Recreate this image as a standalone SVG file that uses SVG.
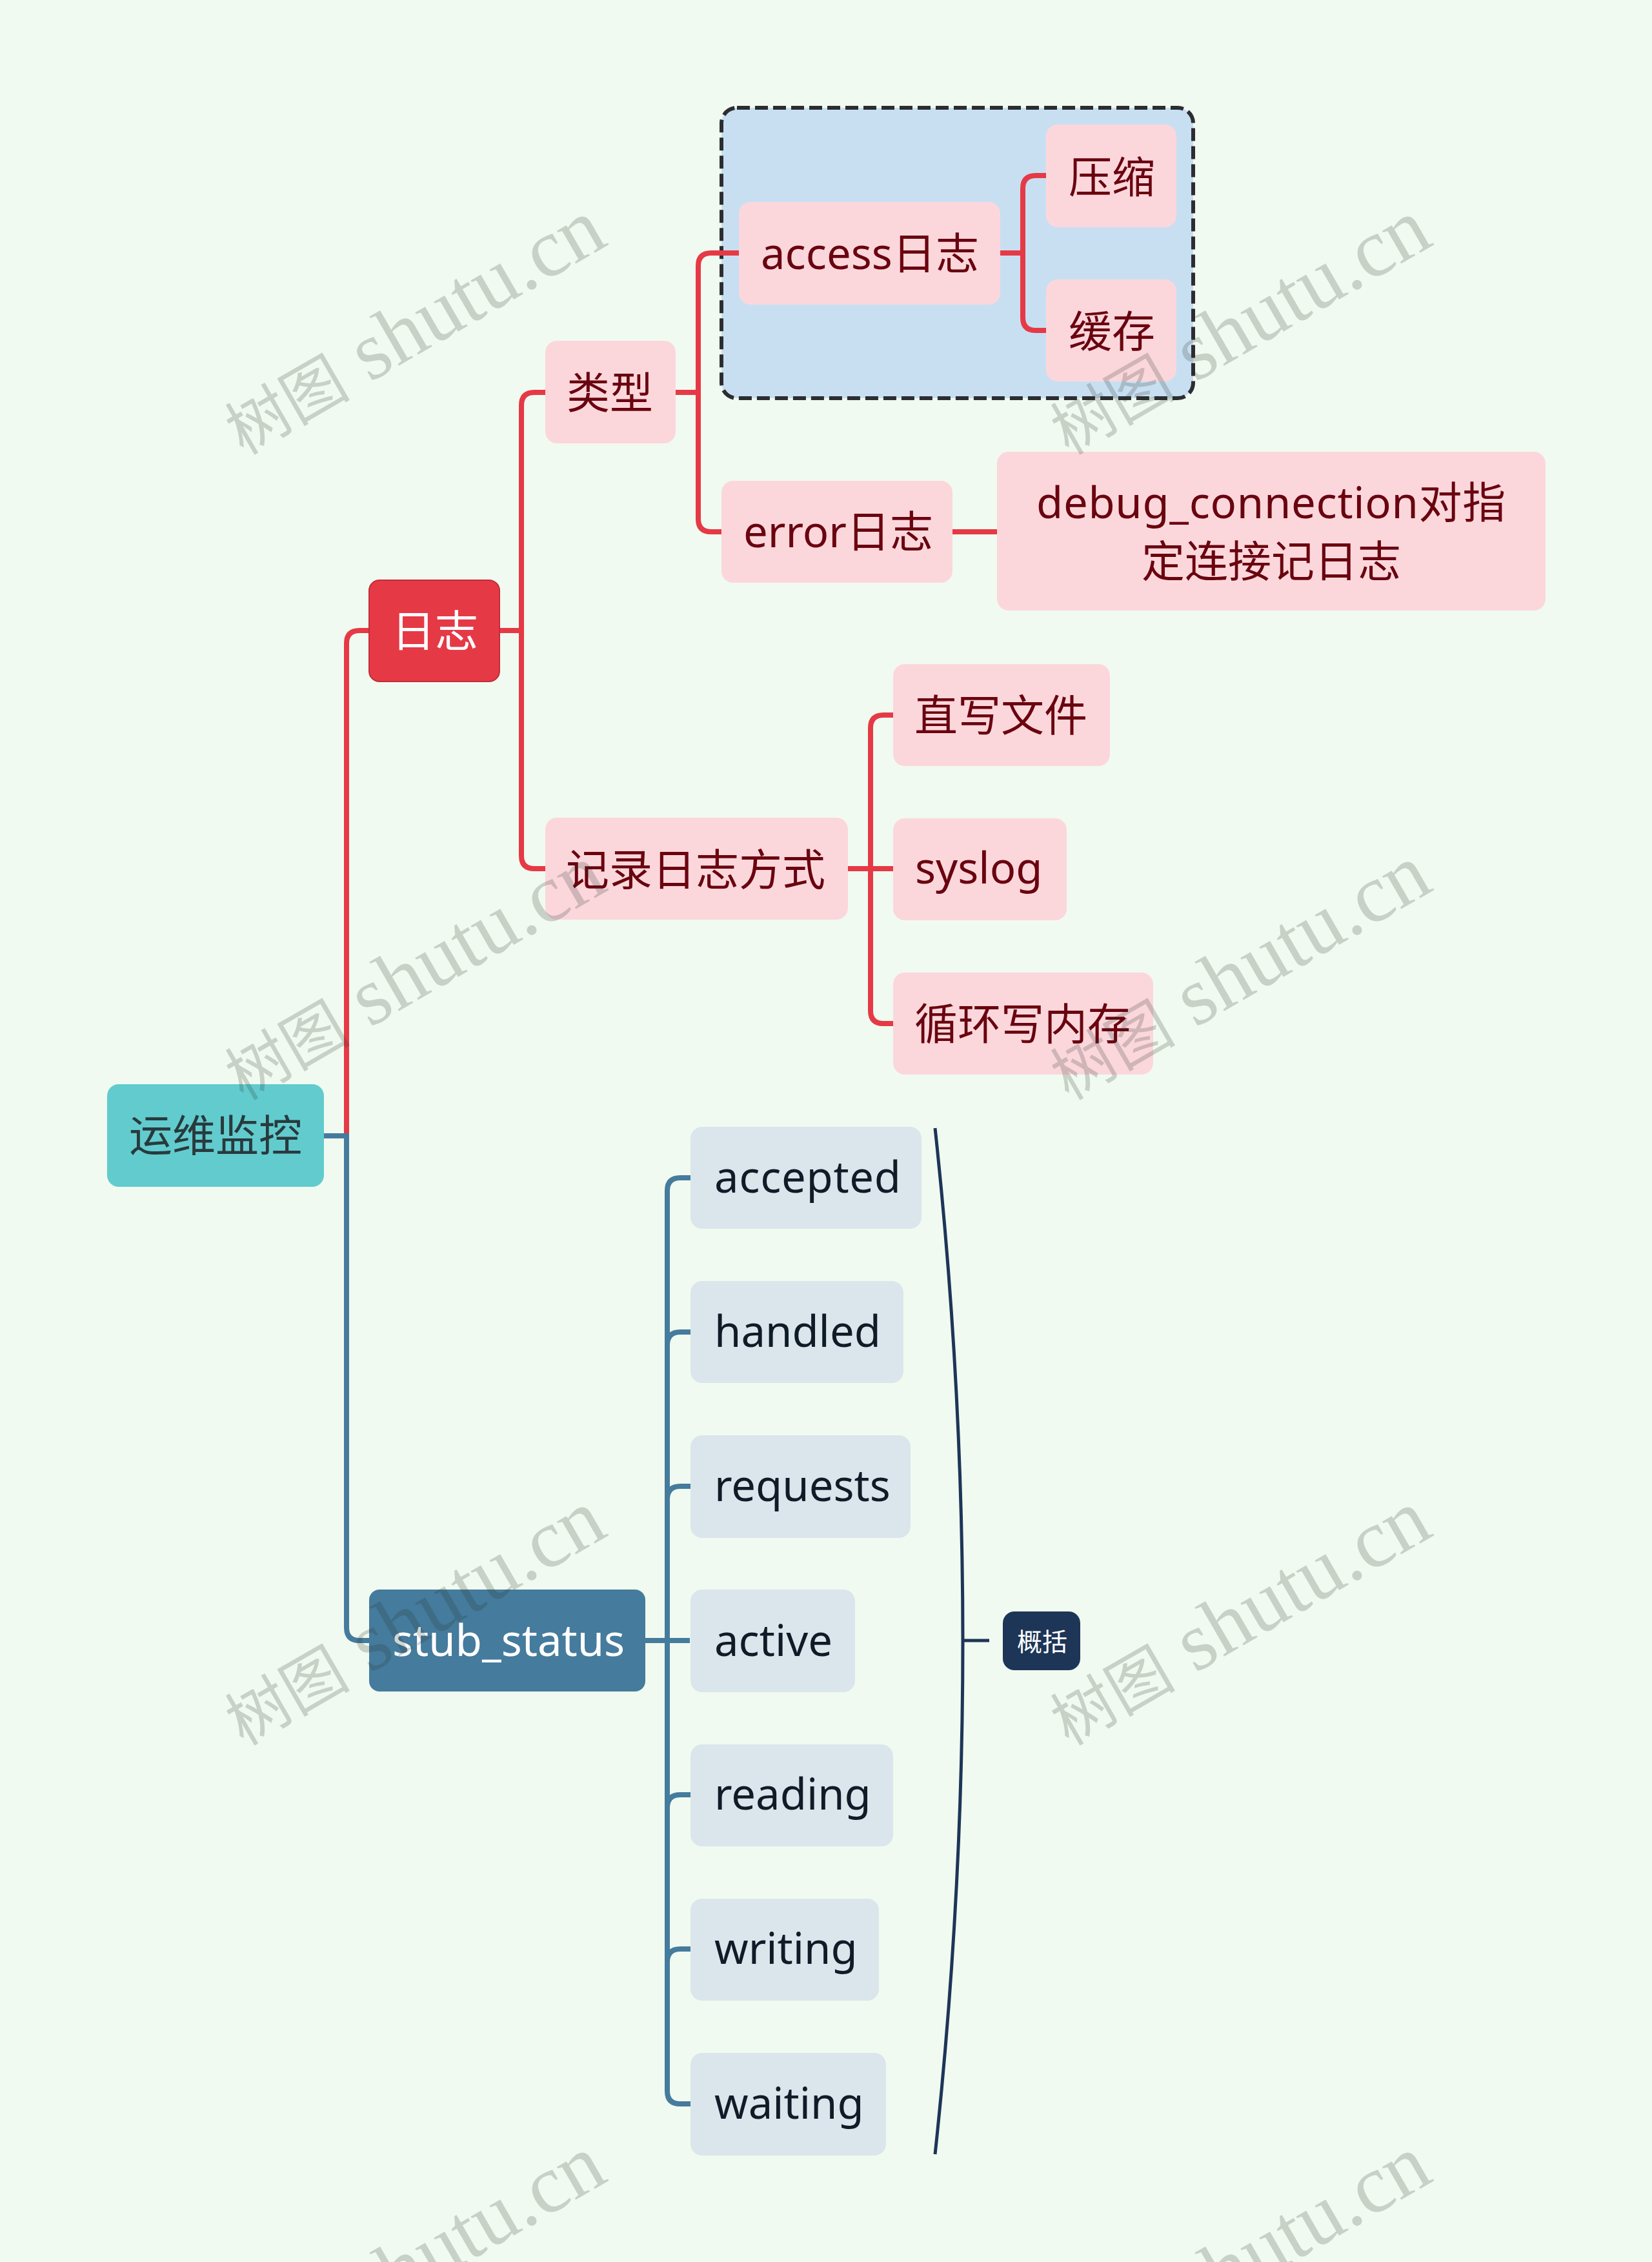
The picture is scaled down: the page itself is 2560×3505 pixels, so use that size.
<svg xmlns="http://www.w3.org/2000/svg" width="2560" height="3505" viewBox="0 0 2560 3505">
<style>
text{font-family:"Noto Sans","Noto Sans CJK SC",sans-serif;font-size:67px}
.la{letter-spacing:.7px}
.c{fill:none;stroke-width:8}
.r{stroke:#e63946}
.b{stroke:#457b9d}
.d{stroke:#1d3557;stroke-width:5;fill:none}
.p rect{fill:#fbd7dc}
.p text{fill:#6a040f}
.l rect{fill:#dbe5ec}
.l text{fill:#0f1c28}
.wm{font-family:"Liberation Serif","Noto Sans CJK SC",serif;font-size:128px;fill:#263226;opacity:.2}
.wm tspan{font-size:97px}
</style>
<rect width="2560" height="3505" fill="#f1faf0"/>
<g id="boundary"><rect x="1118" y="167" width="731" height="450" rx="24" fill="#c8dff2" stroke="#2b2d30" stroke-width="6" stroke-dasharray="20 8"/></g>
<g id="connectors">
<path class="c r" d="M502 1760H537V997Q537 977 557 977H572"/>
<path class="c b" d="M502 1760H537V2522Q537 2542 557 2542H572"/>
<path class="c r" d="M774 977H808M808 977V628Q808 608 828 608H845M808 977V1326Q808 1346 828 1346H845"/>
<path class="c r" d="M1047 608H1082M1082 608V412Q1082 392 1102 392H1145M1082 608V804Q1082 824 1102 824H1118"/>
<path class="c r" d="M1550 392H1585M1585 392V292Q1585 272 1605 272H1621M1585 392V492Q1585 512 1605 512H1621"/>
<path class="c r" d="M1476 824H1545"/>
<path class="c r" d="M1314 1346H1384M1349 1346V1128Q1349 1108 1369 1108H1384M1349 1346V1566Q1349 1586 1369 1586H1384"/>
<path class="c b" d="M1000 2542H1069M1034 2542V1845Q1034 1825 1054 1825H1070M1034 2084Q1034 2064 1054 2064H1070M1034 2323Q1034 2303 1054 2303H1070M1034 2542V3240Q1034 3260 1054 3260H1070M1034 2801Q1034 2781 1054 2781H1070M1034 3040Q1034 3020 1054 3020H1070"/>
<path class="d" d="M1449 1748Q1535 2542 1449 3338"/>
<path class="d" d="M1493 2542H1533"/>
</g>
<g id="root"><rect x="166" y="1680" width="336" height="159" rx="18" fill="#62cbce"/><text x="200" y="1784" fill="#283a3d">运维监控</text></g>
<g id="rizhi"><rect x="572" y="899" width="202" height="157" rx="16" fill="#e63946" stroke="#c22e3a" stroke-width="2"/><text x="607" y="1002" fill="#fff">日志</text></g>
<g id="stub"><rect x="572" y="2463" width="428" height="158" rx="16" fill="#457b9d"/><text x="608" y="2566" fill="#fff">stub_status</text></g>
<g class="p">
<g id="leixing"><rect x="845" y="528" width="202" height="159" rx="18"/><text x="878" y="633">类型</text></g>
<g id="access"><rect x="1145" y="313" width="405" height="159" rx="18"/><text x="1179" y="417">access日志</text></g>
<g id="yasuo"><rect x="1621" y="193" width="202" height="159" rx="18"/><text x="1656" y="299">压缩</text></g>
<g id="huancun"><rect x="1621" y="433" width="202" height="158" rx="18"/><text x="1656" y="538">缓存</text></g>
<g id="error"><rect x="1118" y="745" width="358" height="158" rx="18"/><text x="1152" y="848">error日志</text></g>
<g id="debug"><rect x="1545" y="700" width="850" height="246" rx="18"/><text x="1970" y="803" text-anchor="middle" class="la">debug_connection对指</text><text x="1970" y="894" text-anchor="middle">定连接记日志</text></g>
<g id="jilu"><rect x="845" y="1267" width="469" height="158" rx="18"/><text x="877" y="1372">记录日志方式</text></g>
<g id="zhixie"><rect x="1384" y="1029" width="336" height="158" rx="18"/><text x="1417" y="1133">直写文件</text></g>
<g id="syslog"><rect x="1384" y="1268" width="269" height="158" rx="18"/><text x="1418" y="1369">syslog</text></g>
<g id="xunhuan"><rect x="1384" y="1507" width="403" height="158" rx="18"/><text x="1417" y="1611">循环写内存</text></g>
</g>
<g class="l">
<g id="accepted"><rect x="1070" y="1746" width="358" height="158" rx="18"/><text x="1107" y="1848" class="la">accepted</text></g>
<g id="handled"><rect x="1070" y="1985" width="330" height="158" rx="18"/><text x="1107" y="2087">handled</text></g>
<g id="requests"><rect x="1070" y="2224" width="341" height="159" rx="18"/><text x="1107" y="2326">requests</text></g>
<g id="active"><rect x="1070" y="2463" width="255" height="159" rx="18"/><text x="1107" y="2566">active</text></g>
<g id="reading"><rect x="1070" y="2703" width="314" height="158" rx="18"/><text x="1107" y="2804">reading</text></g>
<g id="writing"><rect x="1070" y="2942" width="292" height="158" rx="18"/><text x="1107" y="3043">writing</text></g>
<g id="waiting"><rect x="1070" y="3181" width="303" height="159" rx="18"/><text x="1107" y="3283">waiting</text></g>
</g>
<g id="summary"><rect x="1554" y="2497" width="120" height="91" rx="18" fill="#1d3557"/><text x="1615" y="2558" fill="#fff" text-anchor="middle" style="font-size:39px">概括</text></g>
<g id="watermarks">
<text class="wm" transform="translate(377 706) rotate(-30)"><tspan>树图</tspan> shutu.cn</text>
<text class="wm" transform="translate(1656 706) rotate(-30)"><tspan>树图</tspan> shutu.cn</text>
<text class="wm" transform="translate(377 1706) rotate(-30)"><tspan>树图</tspan> shutu.cn</text>
<text class="wm" transform="translate(1656 1706) rotate(-30)"><tspan>树图</tspan> shutu.cn</text>
<text class="wm" transform="translate(377 2706) rotate(-30)"><tspan>树图</tspan> shutu.cn</text>
<text class="wm" transform="translate(1656 2706) rotate(-30)"><tspan>树图</tspan> shutu.cn</text>
<text class="wm" transform="translate(377 3706) rotate(-30)"><tspan>树图</tspan> shutu.cn</text>
<text class="wm" transform="translate(1656 3706) rotate(-30)"><tspan>树图</tspan> shutu.cn</text>
</g>
</svg>
